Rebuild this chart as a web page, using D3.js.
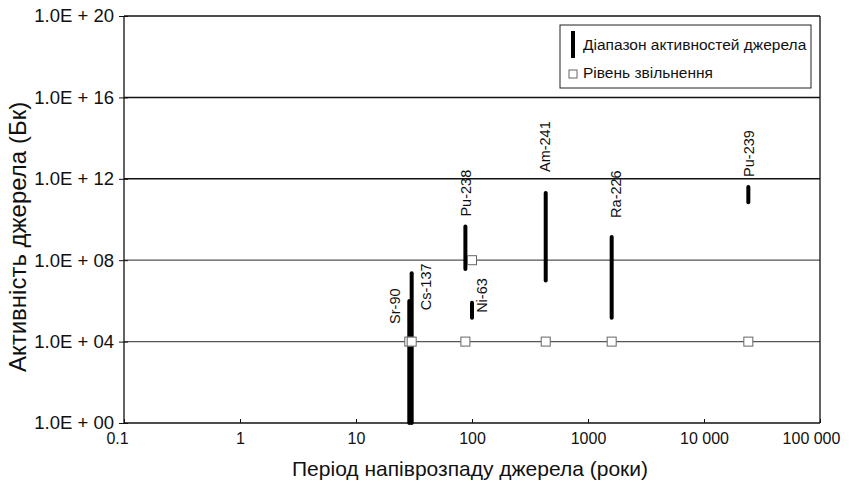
<!DOCTYPE html>
<html>
<head>
  <meta charset="utf-8">
  <title>Activity vs half-life</title>
  <script src="https://d3js.org/d3.v7.min.js"></script>
</head>
<body style="margin:0px; overflow:hidden; background:#fff;">
  <svg id="chart" width="854" height="488"></svg>
  <script>
    // Data
    const isotopes  = ["Sr-90", "Cs-137", "Pu-238", "Ni-63", "Am-241", "Ra-226", "Pu-239"];
    const halfLife  = [28.8, 30.2, 87.7, 100, 432, 1600, 24110];          // years
    const actLow    = [1, 1, 3.7e7, 1.5e5, 1.0e7, 1.5e5, 7e10];           // Bq
    const actHigh   = [1.0e6, 2.3e7, 4.5e9, 8e5, 2e11, 1.4e9, 4e11];      // Bq
    const exemption = [1e4, 1e4, 1e4, 1e8, 1e4, 1e4, 1e4];                // Bq

    const yTicks      = [1, 1e4, 1e8, 1e12, 1e16, 1e20];
    const yTickLabels = ["1.0E + 00", "1.0E + 04", "1.0E + 08", "1.0E + 12", "1.0E + 16", "1.0E + 20"];
    const xTicks      = [0.1, 1, 10, 100, 1000, 10000, 100000];
    const xTickLabels = ["0.1", "1", "10", "100", "1000", "10 000", "100 000"];

    // label offsets from the top of each bar (px), layout only
    const labelOffset = [[-13, 23], [15, 37], [2, -10], [11, 10], [0, -21], [5, -19], [2, -10]];

    // Dimensions
    const pLeft = 124, pRight = 820, pTop = 16, pBottom = 423;
    const font = "'Liberation Sans', Arial, sans-serif";

    const svg = d3.select("#chart").style("font-family", font);

    const x = d3.scaleLog().domain([0.1, 100000]).range([pLeft, pRight]);
    const y = d3.scaleLog().domain([1, 1e20]).range([pBottom, pTop]);

    // Grid lines
    svg.append("g")
      .selectAll("line")
      .data(yTicks.slice(1))
      .enter().append("line")
      .attr("x1", pLeft).attr("x2", pRight)
      .attr("y1", d => y(d)).attr("y2", d => y(d))
      .attr("stroke", d => d >= 1e12 ? "#111" : "#555")
      .attr("stroke-width", d => d >= 1e12 ? 1.5 : 1.2);

    // Right frame
    svg.append("line")
      .attr("x1", pRight).attr("x2", pRight)
      .attr("y1", pTop).attr("y2", pBottom)
      .attr("stroke", "#111").attr("stroke-width", 1.3);

    // Y Axis
    const yAxis = svg.append("g")
      .attr("transform", "translate(" + pLeft + ",0)")
      .call(d3.axisLeft(y)
        .tickValues(yTicks)
        .tickFormat((d, i) => yTickLabels[i])
        .tickSize(6)
        .tickPadding(4));
    yAxis.selectAll("text").attr("font-size", 18.5).attr("fill", "#111").attr("font-family", font);
    yAxis.selectAll("line").attr("stroke", "#111").attr("x2", 4).attr("x1", -5);
    yAxis.select(".domain").attr("d", "M0," + pTop + "V" + pBottom).attr("stroke", "#111").attr("stroke-width", 1.3);

    // X Axis
    const xAxis = svg.append("g")
      .attr("transform", "translate(0," + pBottom + ")")
      .call(d3.axisBottom(x)
        .tickValues(xTicks)
        .tickFormat((d, i) => xTickLabels[i])
        .tickSize(4)
        .tickPadding(6));
    xAxis.selectAll("text").attr("font-size", 16).attr("fill", "#111").attr("font-family", font);
    xAxis.selectAll(".tick line").attr("y2", -4).attr("stroke", "#111");
    xAxis.select(".domain").attr("d", "M" + pLeft + ",0H" + pRight).attr("stroke", "#111").attr("stroke-width", 1.6);
    // edge labels sit a little inward
    xAxis.selectAll(".tick text").filter((d, i) => i === 0).attr("dx", -7);
    xAxis.selectAll(".tick text").filter((d, i) => i === xTicks.length - 1).attr("dx", -9);

    // Activity ranges
    svg.append("g")
      .selectAll("line")
      .data(isotopes)
      .enter().append("line")
      .attr("x1", (d, i) => x(halfLife[i])).attr("x2", (d, i) => x(halfLife[i]))
      .attr("y1", (d, i) => y(actLow[i])).attr("y2", (d, i) => y(actHigh[i]))
      .attr("stroke", "#000").attr("stroke-width", 4).attr("stroke-linecap", "round");

    // Exemption levels
    svg.append("g")
      .selectAll("rect")
      .data(isotopes)
      .enter().append("rect")
      .attr("x", (d, i) => x(halfLife[i]) - 4.5)
      .attr("y", (d, i) => y(exemption[i]) - 4.5)
      .attr("width", 9).attr("height", 9)
      .attr("fill", "#fff").attr("stroke", "#666").attr("stroke-width", 1);

    // Isotope labels
    svg.append("g")
      .selectAll("text")
      .data(isotopes)
      .enter().append("text")
      .attr("transform", (d, i) => "translate(" + (x(halfLife[i]) + labelOffset[i][0]) + "," +
        (y(actHigh[i]) + labelOffset[i][1]) + ") rotate(-90)")
      .attr("dominant-baseline", "middle")
      .attr("font-size", 14.5).attr("fill", "#111")
      .text(d => d);

    // Axis titles
    svg.append("text")
      .attr("x", 470).attr("y", 476)
      .attr("text-anchor", "middle")
      .attr("font-size", 21).attr("fill", "#111")
      .text("Період напіврозпаду джерела (роки)");

    svg.append("text")
      .attr("transform", "translate(20,237) rotate(-90)")
      .attr("text-anchor", "middle")
      .attr("dominant-baseline", "middle")
      .attr("font-size", 24).attr("fill", "#111")
      .text("Активність джерела (Бк)");

    // Legend
    const legend = svg.append("g").attr("transform", "translate(560,25)");
    legend.append("rect")
      .attr("width", 251).attr("height", 63)
      .attr("fill", "#fff").attr("stroke", "#222").attr("stroke-width", 1);
    legend.append("line")
      .attr("x1", 13).attr("x2", 13).attr("y1", 6).attr("y2", 33)
      .attr("stroke", "#000").attr("stroke-width", 4);
    legend.append("text")
      .attr("x", 23).attr("y", 21)
      .attr("dominant-baseline", "middle")
      .attr("font-size", 15.5).attr("fill", "#111")
      .text("Діапазон активностей джерела");
    legend.append("rect")
      .attr("x", 9).attr("y", 45).attr("width", 8).attr("height", 8)
      .attr("fill", "#fff").attr("stroke", "#666").attr("stroke-width", 1);
    legend.append("text")
      .attr("x", 23).attr("y", 49)
      .attr("dominant-baseline", "middle")
      .attr("font-size", 15.5).attr("fill", "#111")
      .text("Рівень звільнення");
  </script>
</body>
</html>
